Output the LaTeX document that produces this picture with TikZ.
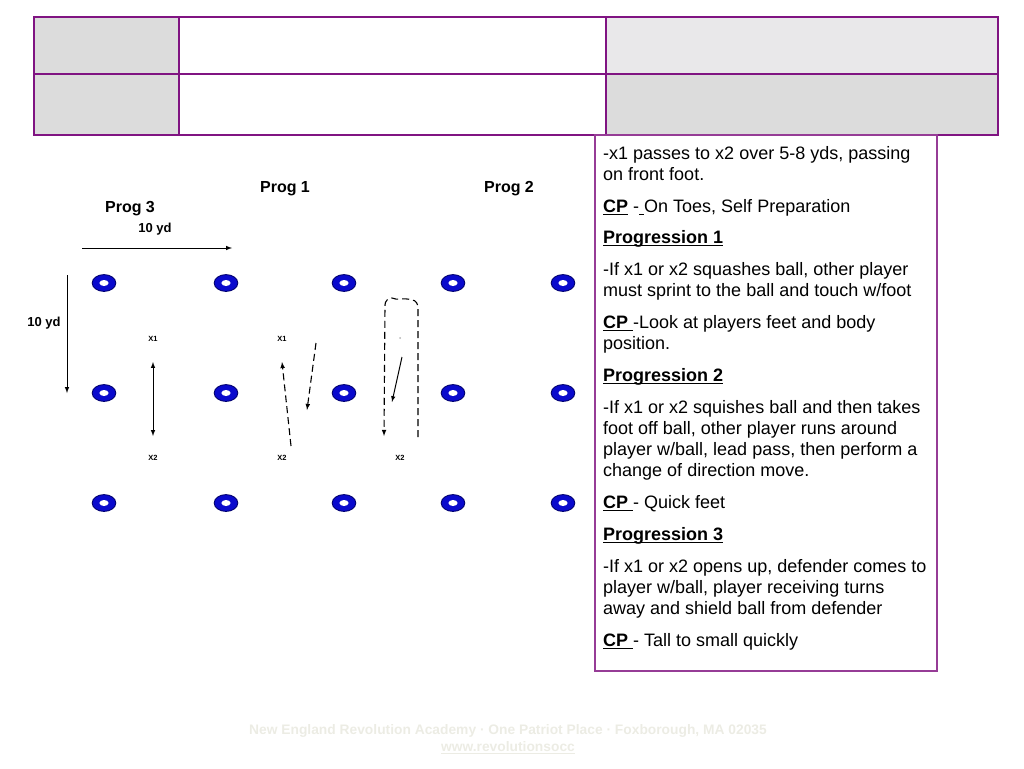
\documentclass[tikz,border=0pt]{standalone}
\usepackage{fontspec}
\setmainfont{Liberation Sans}
\definecolor{tblline}{RGB}{128,20,130}
\definecolor{boxline}{RGB}{150,60,150}
\definecolor{conefill}{RGB}{10,10,205}
\definecolor{coneedge}{RGB}{0,0,110}
\definecolor{cellgray}{RGB}{220,220,220}
\definecolor{cellpale}{RGB}{233,232,234}
\definecolor{footgray}{RGB}{236,236,228}
\newcommand\ulbox[1]{\setbox0\hbox{#1}\rlap{\rule[-2.6pt]{\wd0}{1.3pt}}\box0\relax}
\tikzset{
  prog/.style={font=\bfseries\fontsize{16}{18}\selectfont},
  yd/.style={font=\bfseries\fontsize{13}{15}\selectfont},
  player/.style={font=\bfseries\fontsize{7.5}{9}\selectfont},
  run/.style={line width=1.1pt,dash pattern=on 7pt off 4pt,-latex},
  pass/.style={line width=1pt,-latex},
  notes/.style={inner sep=0pt,align=left,font=\fontsize{18}{21}\selectfont},
  foot/.style={align=center,text=footgray,font=\bfseries\fontsize{13.8}{17}\selectfont}
}
\begin{document}
\begin{tikzpicture}[x=1pt,y=-1pt]
\useasboundingbox (0,0) rectangle (1024,768);
\begin{scope}[line width=2pt,draw=tblline]
\fill[cellgray] (34,17) rectangle (179,135);
\fill[cellpale] (606,17) rectangle (998,74);
\fill[cellgray] (606,74) rectangle (998,135);
\draw[tblline] (34,17) rectangle (998,135) (34,74)--(998,74) (179,17)--(179,135) (606,17)--(606,135);
\end{scope}
\draw[boxline,line width=1.2pt] (595,135) rectangle (937,671);
\foreach \x in {104,226,344,453,563} \foreach \y in {283,393,503} {\filldraw[fill=conefill,draw=coneedge,line width=.9pt] (\x,\y) ellipse (11.8 and 8.4); \fill[white] (\x,\y) ellipse (4.6 and 3);}
\node[prog] (prog1) at (285,189) {Prog 1};
\node[prog] (prog2) at (509,189) {Prog 2};
\node[prog] (prog3) at (130,209) {Prog 3};
\node[yd] (ydtop) at (155,229) {10 yd};
\node[yd] (ydleft) at (44,323) {10 yd};
\coordinate (hA) at (82,248);\coordinate (hB) at (232,248);
\coordinate (vA) at (67,275);\coordinate (vB) at (67,393);
\draw[pass] (hA)--(hB);
\draw[pass] (vA)--(vB);
\node[player] (p3x1) at (153,339) {X1};\node[player] (p3x2) at (153,458) {X2};
\node[player] (p1x1) at (282,339) {X1};\node[player] (p1x2) at (282,458) {X2};
\node[player] (p2x2) at (400,458) {X2};
\coordinate (p3a) at (153,362);\coordinate (p3b) at (153,436);
\draw[pass,latex-latex] (p3a)--(p3b);
\coordinate (p1a) at (291,446);\coordinate (p1b) at (282,362);\coordinate (p1c) at (316,343);\coordinate (p1d) at (307,410);
\draw[run] (p1a)--(p1b);
\draw[run] (p1c)--(p1d);
\coordinate (p2a) at (418,437);\coordinate (p2b) at (384,436);\coordinate (p2c) at (402,357);\coordinate (p2d) at (392,402);
\fill[gray!60] (400,338) circle (1);
\draw[run] (p2a)--(418,308) to[out=90,in=0] (412,300) .. controls (402,297) and (398,301) .. (392,298) to[out=180,in=90] (385,305)--(p2b);
\draw[pass] (p2c)--(p2d);
\node[notes,anchor=north west] (notes) at (603,146) {-x1 passes to x2 over 5-8 yds, passing\\
on front foot.\\[11pt]
\ulbox{\textbf{CP}} -\ulbox{ }On Toes, Self Preparation\\[10pt]
\ulbox{\textbf{Progression 1}}\\[11pt]
-If x1 or x2 squashes ball, other player\\
must sprint to the ball and touch w/foot\\[11pt]
\ulbox{\textbf{CP} }-Look at players feet and body\\
position.\\[11pt]
\ulbox{\textbf{Progression 2}}\\[11pt]
-If x1 or x2 squishes ball and then takes\\
foot off ball, other player runs around\\
player w/ball, lead pass, then perform a\\
change of direction move.\\[11pt]
\ulbox{\textbf{CP} }- Quick feet\\[11pt]
\ulbox{\textbf{Progression 3}}\\[11pt]
-If x1 or x2 opens up, defender comes to\\
player w/ball, player receiving turns\\
away and shield ball from defender\\[11pt]
\ulbox{\textbf{CP} }- Tall to small quickly};
\node[foot] (foot) at (508,739) {New England Revolution Academy · One Patriot Place · Foxborough, MA 02035\\
{\color{footgray}\ulbox{www.revolutionsocc}}};
\end{tikzpicture}
\end{document}
